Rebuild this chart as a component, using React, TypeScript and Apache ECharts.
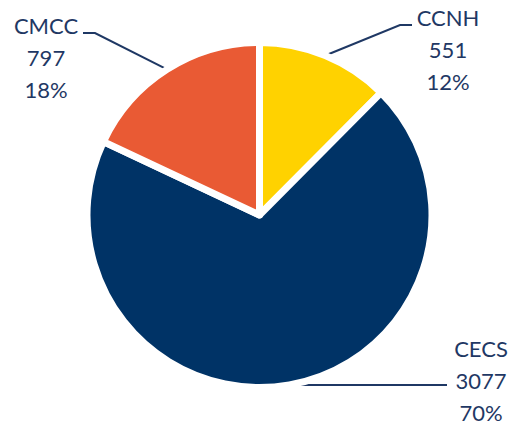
import React, { useEffect, useRef } from 'react';
import * as echarts from 'echarts';

const categories = ['CCNH', 'CECS', 'CMCC'];
const values = [551, 3077, 797];
const sliceColors = ['#FFD200', '#003366', '#E95A34'];

// Layout of the outside labels (block centre x, block top y) and their leader elbows
const labelSpots = [
  { x: 448, y: 1.5, lineY: 25, elbowX: 400, endX: 412 },
  { x: 481, y: 332.5, lineY: null as number | null, elbowX: null as number | null, endX: 447 },
  { x: 46, y: 9, lineY: 33, elbowX: 95, endX: 83 },
];

const textColor = '#1F3864';

export default function App() {
  const ref = useRef<HTMLDivElement>(null);
  useEffect(() => {
    if (!ref.current) return;
    const chart = echarts.init(ref.current, undefined, { renderer: 'svg' });
    chart.setOption({
      animation: false,
      backgroundColor: '#ffffff',
      series: [
        {
          type: 'pie',
          center: [259.5, 215],
          radius: 172.5,
          startAngle: 90,
          clockwise: true,
          avoidLabelOverlap: false,
          silent: true,
          data: categories.map((name, i) => ({
            name,
            value: values[i],
            itemStyle: { color: sliceColors[i] },
          })),
          itemStyle: { borderColor: '#ffffff', borderWidth: 7 },
          label: {
            show: true,
            position: 'outside',
            alignTo: 'none',
            formatter: (p: any) => `${p.name}\n${p.value}\n${Math.round(p.percent)}%`,
            fontFamily: 'Lato',
            fontSize: 22,
            lineHeight: 32,
            color: textColor,
            align: 'center',
          },
          labelLine: {
            show: true,
            smooth: false,
            lineStyle: { color: textColor, width: 2 },
          },
          labelLayout: (p: any) => {
            const s = labelSpots[p.dataIndex];
            const a = p.labelLinePoints ? p.labelLinePoints[0] : [0, 0];
            const ly = s.lineY == null ? a[1] : s.lineY;
            const ex = s.elbowX == null ? (a[0] + s.endX) / 2 : s.elbowX;
            return {
              x: s.x,
              y: s.y,
              align: 'center',
              verticalAlign: 'top',
              labelLinePoints: [a, [ex, ly], [s.endX, ly]],
            };
          },
        },
      ],
    });
    return () => chart.dispose();
  }, []);
  return (
    <div
      ref={ref}
      style={{ position: 'fixed', left: 0, top: 0, width: 516, height: 425 }}
    />
  );
}
